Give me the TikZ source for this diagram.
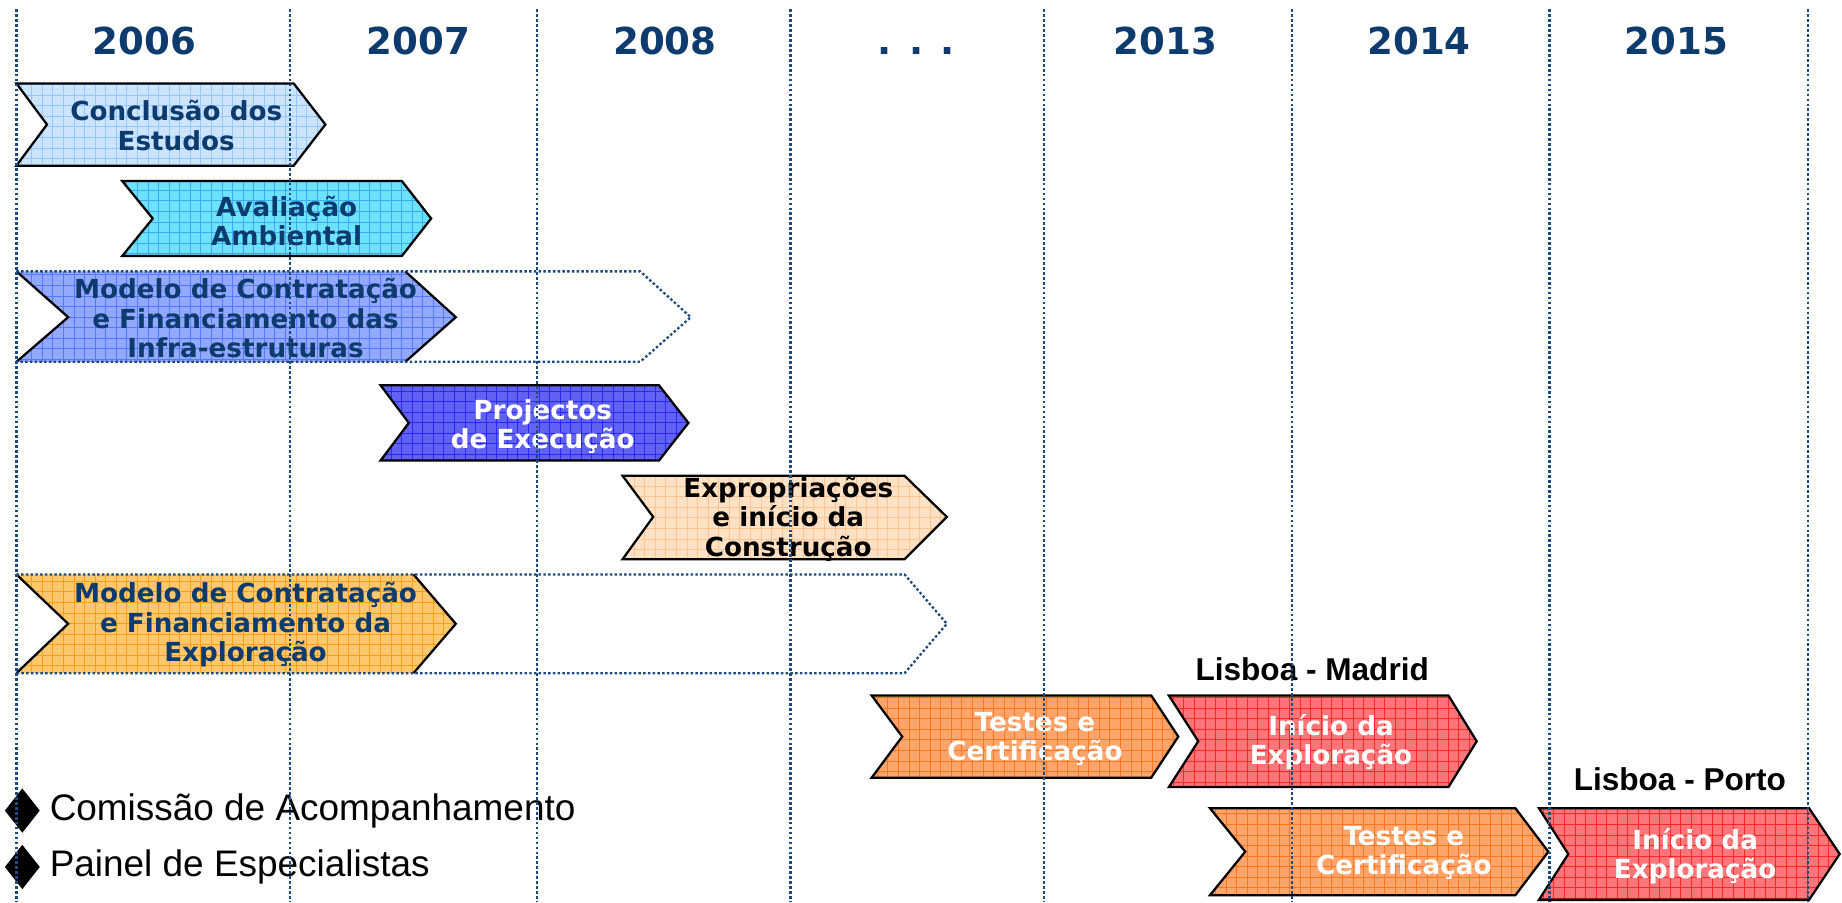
\documentclass[tikz,border=0pt]{standalone}
\usepackage{fontspec}
\usepackage{xcolor}
\usepackage{tikz}
\setmainfont{DejaVu Sans}
\newfontfamily\arialfont{Liberation Sans}
\usetikzlibrary{shapes,positioning,calc}

\definecolor{navy}{RGB}{13,59,110}
\definecolor{dotblue}{RGB}{28,74,126}
\definecolor{lblue}{RGB}{205,228,255}   \definecolor{lbluegrid}{RGB}{150,200,255}
\definecolor{cyanbox}{RGB}{108,226,255} \definecolor{cyangrid}{RGB}{60,170,245}
\definecolor{perib}{RGB}{147,169,255}   \definecolor{peribgrid}{RGB}{88,120,255}
\definecolor{bluebox}{RGB}{98,98,242}   \definecolor{bluegrid}{RGB}{40,40,255}
\definecolor{peach}{RGB}{255,225,196}   \definecolor{peachgrid}{RGB}{255,196,150}
\definecolor{orng}{RGB}{255,200,110}    \definecolor{orngrid}{RGB}{255,160,20}
\definecolor{tang}{RGB}{255,164,106}    \definecolor{tanggrid}{RGB}{255,118,30}
\definecolor{redbox}{RGB}{255,118,122}  \definecolor{redgrid}{RGB}{255,40,40}

\begin{document}
\begin{tikzpicture}[x=0.02cm, y=-0.02cm,
    chev/.style={draw=black, line width=1.1pt, line join=miter},
    cell/.style={path picture={\draw[#1, line width=0.45pt, step=0.18cm]
        (path picture bounding box.south west) grid (path picture bounding box.north east);}},
    ext/.style={draw=dotblue, line width=1.1pt, dash pattern=on 1.2pt off 1.1pt},
    yearline/.style={draw=dotblue, line width=1.1pt, dash pattern=on 1.3pt off 1.1pt},
    yr/.style={font=\bfseries\fontsize{18}{20}\selectfont, text=navy},
    boxtxt/.style={font=\bfseries\fontsize{12.7}{14.3}\selectfont, align=center, inner sep=0pt},
    bullet/.style={diamond, fill=black, inner sep=0pt, minimum width=0.6cm, minimum height=0.76cm},
    legend/.style={font=\arialfont\fontsize{17.9}{20}\selectfont, inner sep=0pt},
    route/.style={font=\arialfont\bfseries\fontsize{15.3}{17}\selectfont, inner sep=0pt}]

    \useasboundingbox (0,0) rectangle (1568,768);

    % years
    \node[yr] (y2006) at (123,35) {2006};
    \node[yr] (y2007) at (356,35) {2007};
    \node[yr] (y2008) at (566,35) {2008};
    \node[yr] (ydots) at (780,43) {. . .};
    \node[yr] (y2013) at (992,35) {2013};
    \node[yr] (y2014) at (1208,35) {2014};
    \node[yr] (y2015) at (1427,35) {2015};

    % studies and environment
    \draw[chev, fill=lblue, cell=lbluegrid] (14,71) -- (250,71) -- (277,106) -- (250,141) -- (14,141) -- (40,106) -- cycle;
    \node[boxtxt, text=navy] (estudos) at (150,107) {Conclusão dos\\Estudos};

    \draw[chev, fill=cyanbox, cell=cyangrid] (104,154) -- (342,154) -- (367,186) -- (342,218) -- (104,218) -- (130,186) -- cycle;
    \node[boxtxt, text=navy] (ambiental) at (244,188) {Avaliação\\Ambiental};

    % contracting model, infrastructure
    \fill[perib, cell=peribgrid] (14,231) -- (345,231) -- (388,270) -- (345,308) -- (14,308) -- (58,270) -- cycle;
    \draw[chev] (14,231) -- (58,270) -- (14,308);
    \draw[chev] (345,231) -- (388,270) -- (345,308);
    \draw[ext] (14,231) -- (545,231) -- (588,270) -- (545,308) -- (14,308);
    \node[boxtxt, text=navy] (infra) at (209,271) {Modelo de Contratação\\e Financiamento das\\Infra-estruturas};

    \draw[chev, fill=bluebox, cell=bluegrid] (324,328) -- (561,328) -- (586,360) -- (561,392) -- (324,392) -- (348,360) -- cycle;
    \node[boxtxt, text=white] (projectos) at (462,363) {Projectos\\de Execução};

    \draw[chev, fill=peach, cell=peachgrid] (530,405) -- (770,405) -- (806,440) -- (770,476) -- (530,476) -- (556,440) -- cycle;
    \node[boxtxt, text=black] (construcao) at (671,442) {Expropriações\\e início da\\Construção};

    % contracting model, operation
    \fill[orng, cell=orngrid] (14,489) -- (352,489) -- (388,531) -- (352,573) -- (14,573) -- (58,531) -- cycle;
    \draw[chev] (14,489) -- (58,531) -- (14,573);
    \draw[chev] (352,489) -- (388,531) -- (352,573);
    \draw[ext] (14,489) -- (770,489) -- (806,531) -- (770,573) -- (14,573);
    \node[boxtxt, text=navy] (exploracao) at (209,532) {Modelo de Contratação\\e Financiamento da\\Exploração};

    % Lisboa - Madrid
    \node[route] (madrid) at (1117,570) {Lisboa - Madrid};
    \draw[chev, fill=tang, cell=tanggrid] (742,592) -- (980,592) -- (1003,627) -- (980,662) -- (742,662) -- (768,627) -- cycle;
    \node[boxtxt, text=white] (testesLM) at (881,629) {Testes e\\Certificação};
    \draw[chev, fill=redbox, cell=redgrid] (995,592) -- (1233,592) -- (1257,631) -- (1233,670) -- (995,670) -- (1020,631) -- cycle;
    \node[boxtxt, text=white] (inicioLM) at (1133,632) {Início da\\Exploração};

    % Lisboa - Porto
    \node[route] (porto) at (1430,663) {Lisboa - Porto};
    \draw[chev, fill=tang, cell=tanggrid] (1030,688) -- (1290,688) -- (1318,725) -- (1290,762) -- (1030,762) -- (1060,725) -- cycle;
    \node[boxtxt, text=white] (testesLP) at (1195,726) {Testes e\\Certificação};
    \draw[chev, fill=redbox, cell=redgrid] (1310,688) -- (1540,688) -- (1566,727) -- (1540,766) -- (1310,766) -- (1335,727) -- cycle;
    \node[boxtxt, text=white] (inicioLP) at (1443,729) {Início da\\Exploração};

    % legend
    \node[bullet] (comissao) at (19,690) {};
    \node[legend, anchor=west] (comissaotxt) at (42,690) {Comissão de Acompanhamento};
    \node[bullet] (painel) at (19,738) {};
    \node[legend, anchor=west] (paineltxt) at (42,738) {Painel de Especialistas};

    % year separators
    \draw[yearline] (14,8) -- (14,768);
    \draw[yearline] (247,8) -- (247,768);
    \draw[yearline] (457,8) -- (457,768);
    \draw[yearline] (673,8) -- (673,768);
    \draw[yearline] (889,8) -- (889,768);
    \draw[yearline] (1100,8) -- (1100,768);
    \draw[yearline] (1319,8) -- (1319,768);
    \draw[yearline] (1539,8) -- (1539,768);
\end{tikzpicture}
\end{document}
